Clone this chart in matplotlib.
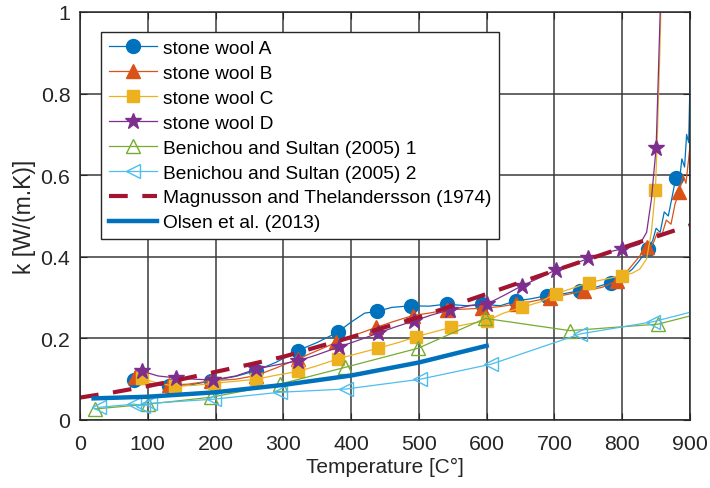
import numpy as np
import matplotlib
matplotlib.use('Agg')
import matplotlib.pyplot as plt

plt.rcParams['font.family'] = ['Liberation Sans', 'DejaVu Sans']

# stone wool A
a_T = [79, 100, 132, 160, 194, 230, 260, 290, 321, 350, 380, 400, 420, 438, 460, 489, 515, 541, 570, 593,
       620, 643, 665, 689, 715, 738, 760, 784, 800, 815, 825, 838, 845, 850, 856, 862, 868, 874, 879, 884,
       888, 892, 895, 898, 900]
a_k = [0.099, 0.088, 0.083, 0.085, 0.096, 0.107, 0.121, 0.142, 0.17, 0.19, 0.215, 0.24, 0.262, 0.266, 0.276,
       0.28, 0.279, 0.284, 0.28, 0.284, 0.28, 0.292, 0.297, 0.305, 0.31, 0.317, 0.325, 0.337, 0.35, 0.37,
       0.39, 0.42, 0.44, 0.47, 0.46, 0.51, 0.50, 0.55, 0.593, 0.58, 0.64, 0.62, 0.7, 0.68, 0.83]
a_mark = [79, 132, 194, 260, 321, 380, 438, 489, 541, 593, 643, 689, 738, 784, 838, 879]

# stone wool B
b_T = [81, 100, 132, 160, 194, 230, 260, 290, 322, 350, 378, 400, 437, 460, 491, 515, 541, 570, 593, 620,
       643, 665, 693, 720, 744, 770, 792, 810, 825, 836, 845, 852, 858, 865, 872, 878, 884, 890, 894, 898, 900]
b_k = [0.105, 0.09, 0.085, 0.088, 0.096, 0.1, 0.109, 0.128, 0.15, 0.17, 0.19, 0.205, 0.227, 0.24, 0.256,
       0.262, 0.27, 0.272, 0.274, 0.278, 0.284, 0.29, 0.3, 0.308, 0.317, 0.325, 0.341, 0.37, 0.40, 0.423,
       0.43, 0.46, 0.45, 0.49, 0.48, 0.53, 0.558, 0.6, 0.58, 0.64, 0.672]
b_mark = [81, 132, 194, 260, 322, 378, 437, 491, 541, 593, 643, 693, 744, 792, 836, 884]

# stone wool C
c_T = [91, 115, 140, 170, 197, 230, 260, 290, 322, 350, 381, 410, 440, 470, 496, 520, 548, 575, 600, 625,
       652, 680, 702, 725, 751, 775, 799, 815, 826, 836, 843, 849, 852, 855, 857, 859]
c_k = [0.102, 0.09, 0.083, 0.085, 0.09, 0.095, 0.1, 0.11, 0.119, 0.133, 0.15, 0.163, 0.176, 0.19, 0.204,
       0.215, 0.227, 0.236, 0.243, 0.262, 0.276, 0.29, 0.31, 0.322, 0.337, 0.345, 0.354, 0.36, 0.37, 0.395,
       0.46, 0.564, 0.705, 0.87, 1.0, 1.1]
c_mark = [91, 140, 197, 260, 322, 381, 440, 496, 548, 600, 652, 702, 751, 799, 849]

# stone wool D
d_T = [91, 115, 142, 170, 196, 230, 260, 290, 322, 350, 382, 410, 440, 465, 493, 520, 546, 575, 600, 625,
       652, 680, 702, 725, 750, 775, 799, 815, 826, 836, 843, 850, 853, 856, 858]
d_k = [0.12, 0.108, 0.103, 0.1, 0.098, 0.108, 0.125, 0.135, 0.145, 0.16, 0.179, 0.195, 0.213, 0.228, 0.243,
       0.258, 0.27, 0.28, 0.284, 0.305, 0.329, 0.35, 0.368, 0.38, 0.396, 0.41, 0.419, 0.425, 0.431, 0.46,
       0.54, 0.667, 0.83, 1.0, 1.1]
d_mark = [91, 142, 196, 260, 322, 382, 440, 493, 546, 600, 652, 702, 750, 799, 850]

# Benichou and Sultan (2005)
ben1_T = [22, 101, 194, 295, 391, 499, 598, 723, 853, 900]
ben1_k = [0.027, 0.039, 0.056, 0.088, 0.129, 0.176, 0.249, 0.219, 0.235, 0.255]
ben2_T = [28, 80, 93, 104, 197, 295, 393, 502, 607, 738, 846, 900]
ben2_k = [0.031, 0.039, 0.035, 0.041, 0.051, 0.068, 0.076, 0.1, 0.137, 0.211, 0.241, 0.264]

# Magnusson and Thelandersson (1974)
mag_T = [0, 50, 100, 150, 200, 250, 300, 400, 500, 600, 700, 800, 900]
mag_k = [0.055, 0.068, 0.083, 0.1, 0.118, 0.136, 0.155, 0.203, 0.252, 0.309, 0.366, 0.422, 0.477]

# Olsen et al. (2013)
ol_T = [20, 100, 200, 300, 400, 500, 600]
ol_k = [0.053, 0.057, 0.068, 0.086, 0.109, 0.141, 0.182]

labels = ['stone wool A', 'stone wool B', 'stone wool C', 'stone wool D',
          'Benichou and Sultan (2005) 1', 'Benichou and Sultan (2005) 2',
          'Magnusson and Thelandersson (1974)', 'Olsen et al. (2013)']

fig = plt.figure(figsize=(7.1, 4.89), dpi=100)
ax = fig.add_axes([80/710, 68/489, 610/710, 408/489])

def idx(T, marks):
    return [T.index(t) for t in marks]

ax.plot(a_T, a_k, color='#0072BD', lw=0.9, marker='o', ms=10, markevery=idx(a_T, a_mark), label=labels[0])
ax.plot(b_T, b_k, color='#D95319', lw=0.9, marker='^', ms=10, markevery=idx(b_T, b_mark), label=labels[1])
ax.plot(c_T, c_k, color='#EDB120', lw=0.9, marker='s', ms=8.5, markevery=idx(c_T, c_mark), label=labels[2])
ax.plot(d_T, d_k, color='#7E2F8E', lw=0.9, marker='*', ms=12, markevery=idx(d_T, d_mark), label=labels[3])
ax.plot(ben1_T, ben1_k, color='#77AC30', lw=0.9, marker='^', ms=10, mfc='none',
        markevery=list(range(len(ben1_T) - 1)), label=labels[4])
ax.plot(ben2_T, ben2_k, color='#4DBEEE', lw=0.9, marker='<', ms=10, mfc='none',
        markevery=list(range(len(ben2_T) - 1)), label=labels[5])
ax.plot(mag_T, mag_k, color='#A2142F', lw=3, dashes=(4.5, 3.5), label=labels[6])
ax.plot(ol_T, ol_k, color='#0072BD', lw=3.2, label=labels[7])

ax.set_xlim(0, 900)
ax.set_ylim(0, 1)
ax.set_xticks(np.arange(0, 901, 100))
ax.set_yticks([0, 0.2, 0.4, 0.6, 0.8, 1])
ax.set_yticklabels(['0', '0.2', '0.4', '0.6', '0.8', '1'])
ax.grid(True, color='#3a3a3a', lw=1.1)
ax.set_axisbelow(True)
ax.tick_params(direction='in', top=True, right=True, length=5, labelsize=15.4, colors='#262626')
ax.tick_params(axis='x', pad=10)
ax.tick_params(axis='y', pad=7)
for s in ax.spines.values():
    s.set_color('#262626')
    s.set_linewidth(1.1)
ax.set_xlabel('Temperature [C°]', fontsize=15, color='#262626', labelpad=3)
ax.set_ylabel('k [W/(m.K)]', fontsize=16.5, color='#262626', labelpad=3)

leg = ax.legend(loc='upper left', bbox_to_anchor=(0.0344, 0.951), borderaxespad=0, fontsize=13.8,
                handlelength=2.5, labelspacing=0.39, fancybox=False, framealpha=1,
                edgecolor='#262626', borderpad=0.4, handletextpad=0.31)
leg.get_frame().set_linewidth(1.0)

fig.savefig('out.png', dpi=100)
